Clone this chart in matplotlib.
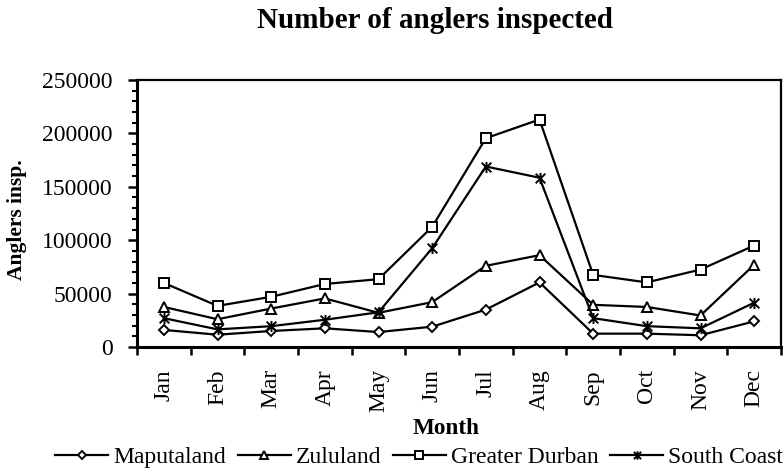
import matplotlib
matplotlib.use("Agg")
import matplotlib.pyplot as plt
from matplotlib.path import Path
from matplotlib.ticker import MultipleLocator, FixedLocator

months = ["Jan", "Feb", "Mar", "Apr", "May", "Jun", "Jul", "Aug", "Sep", "Oct", "Nov", "Dec"]
maputaland = [16000, 11500, 15000, 17500, 14000, 19000, 35000, 60500, 12500, 12500, 11000, 24000]
zululand = [37500, 26000, 36000, 45500, 32000, 42000, 76000, 86000, 39500, 37500, 29500, 77000]
greater_durban = [60000, 38500, 47000, 59000, 63500, 112500, 195500, 213000, 67500, 60500, 72500, 95000]
south_coast = [27000, 16500, 19500, 25500, 32500, 92500, 169000, 158500, 27000, 19500, 17500, 41500]

plt.rcParams['font.family'] = ['Liberation Serif', 'DejaVu Serif']

star = Path([(0, -1), (0, 1), (-0.87, -0.87), (0.87, 0.87), (-0.87, 0.87), (0.87, -0.87)],
            [Path.MOVETO, Path.LINETO, Path.MOVETO, Path.LINETO, Path.MOVETO, Path.LINETO])

W, H = 784, 474
fig = plt.figure(figsize=(W / 100, H / 100), dpi=100)
ax = fig.add_axes([137 / W, 1 - 347 / H, (781 - 137) / W, (347 - 80) / H])

x = list(range(len(months)))
kw = dict(color='black', lw=1.6, mfc='white', mec='black', mew=1.4)
ax.plot(x, maputaland, marker='D', ms=5, label='Maputaland', **kw)
ax.plot(x, zululand, marker='^', ms=7.5, label='Zululand', **kw)
ax.plot(x, greater_durban, marker='s', ms=7.5, label='Greater Durban', **kw)
ax.plot(x, south_coast, marker=star, ms=8, label='South Coast', **kw)

ax.set_xlim(-0.5, len(months) - 0.5)
ax.set_ylim(0, 250000)
ax.yaxis.set_major_locator(MultipleLocator(50000))
ax.yaxis.set_minor_locator(MultipleLocator(10000))
ax.set_xticks(x)
ax.set_xticklabels(months, rotation=90, fontsize=17)
ax.xaxis.set_minor_locator(FixedLocator([i - 0.5 for i in range(len(months) + 1)]))
ax.tick_params(axis='x', which='major', length=0, pad=16)
ax.tick_params(axis='x', which='minor', length=5.5, width=1.8, direction='out')
ax.tick_params(axis='y', which='major', length=6.5, width=1.8, direction='out', labelsize=17, pad=11)
ax.tick_params(axis='y', which='minor', length=3.6, width=1.5, direction='out')
for s in ['left', 'bottom']:
    ax.spines[s].set_linewidth(2.2)
for s in ['top', 'right']:
    ax.spines[s].set_linewidth(1.6)

fig.text(17.5 / W, 1 - 220 / H, 'Anglers insp.', fontsize=15.5, fontweight='bold',
         rotation=90, ha='center', va='center')
fig.text(446 / W, 1 - 428 / H, 'Month', fontsize=16.7, fontweight='bold',
         ha='center', va='center')
fig.text(434.5 / W, 1 - 20 / H, 'Number of anglers inspected', fontsize=21,
         fontweight='bold', ha='center', va='center')

fig.legend(loc='center', bbox_to_anchor=(419 / W, 1 - 457 / H), ncol=4, frameon=False,
           fontsize=17, handlelength=2.25, handletextpad=0.2, columnspacing=0.5,
           borderaxespad=0, borderpad=0, markerscale=0.75)

fig.savefig('out.png', dpi=100)
